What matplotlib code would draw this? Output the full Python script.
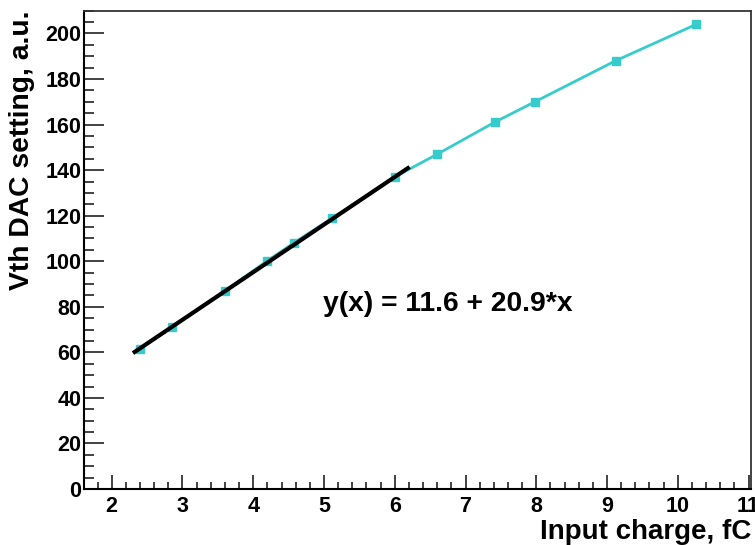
import matplotlib
matplotlib.use("Agg")
import matplotlib.pyplot as plt
from matplotlib.ticker import MultipleLocator

plt.rcParams['font.family'] = ['Liberation Sans', 'DejaVu Sans']
plt.rcParams['font.weight'] = 'bold'

# Threshold scan: input charge (fC) vs Vth DAC setting
charge = [2.40, 2.85, 3.60, 4.19, 4.57, 5.12, 6.00, 6.60, 7.41, 7.98, 9.12, 10.26]
vth = [61.5, 71.0, 87.0, 100.0, 108.0, 119.0, 137.0, 147.0, 161.0, 170.0, 188.0, 204.0]

# Linear fit result and its range
fit_p0 = 11.6
fit_p1 = 20.9
fit_range = [2.3, 6.21]
fit_label = "y(x) = 11.6 + 20.9*x"

cyan = "#36CCCC"

fig = plt.figure(figsize=(7.55, 5.45), dpi=100)
ax = fig.add_axes([84 / 755, 56 / 545, 667 / 755, 478.3 / 545])

ax.plot(charge, vth, color=cyan, lw=2.0, marker='s', ms=5.5,
        mec=cyan, mfc=cyan, zorder=2)
fx = fit_range
fy = [fit_p0 + fit_p1 * x for x in fx]
ax.plot(fx, fy, color='black', lw=3.0, solid_capstyle='butt', zorder=3)

ax.set_xlim(1.608, 11.035)
ax.set_ylim(0, 210)

ax.xaxis.set_major_locator(MultipleLocator(1))
ax.xaxis.set_minor_locator(MultipleLocator(0.2))
ax.yaxis.set_major_locator(MultipleLocator(20))
ax.yaxis.set_minor_locator(MultipleLocator(5))

ax.tick_params(axis='both', which='both', direction='in',
               top=False, right=False, labelsize=15.5, width=1.2,
               color='#222222')
ax.tick_params(axis='x', which='major', length=10, pad=5)
ax.tick_params(axis='x', which='minor', length=5)
ax.tick_params(axis='y', which='major', length=14.5, pad=2)
ax.tick_params(axis='y', which='minor', length=7.5)
for lab in ax.get_xticklabels() + ax.get_yticklabels():
    lab.set_fontweight('bold')

for side in ['left', 'bottom']:
    ax.spines[side].set_linewidth(1.5)
    ax.spines[side].set_color('black')
for side in ['top', 'right']:
    ax.spines[side].set_linewidth(1.3)
    ax.spines[side].set_color('#333333')

fig.text(751 / 755, 1 - 539 / 545, "Input charge, fC", ha='right',
         va='baseline', fontsize=20, fontweight='bold')
fig.text(9 / 755, 1 - 11 / 545, "Vth DAC setting, a.u.", ha='left',
         va='top', rotation=90, fontsize=20.3, fontweight='bold')

ax.text(323 / 755, 1 - 310.7 / 545, fit_label, transform=fig.transFigure,
        ha='left', va='baseline', fontsize=20.3, fontweight='bold')

fig.savefig("out.png", dpi=100)
